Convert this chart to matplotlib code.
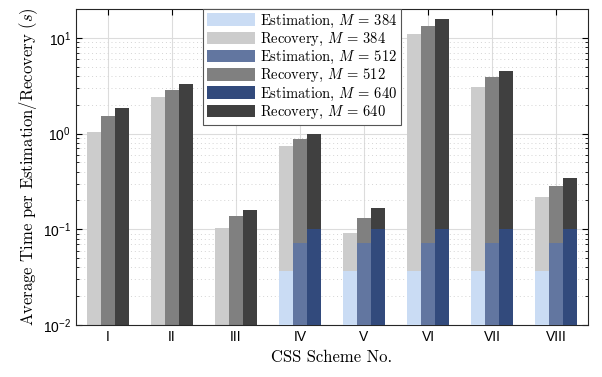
import numpy as np
import matplotlib
matplotlib.use('Agg')
import matplotlib.pyplot as plt
from matplotlib.patches import Patch

plt.rcParams['mathtext.fontset'] = 'cm'
plt.rcParams['axes.unicode_minus'] = False

# data
schemes = ['I', 'II', 'III', 'IV', 'V', 'VI', 'VII', 'VIII']
M_values = [384, 512, 640]
rec_384 = [1.03, 2.39, 0.104, 0.745, 0.092, 11.0, 3.09, 0.215]
rec_512 = [1.53, 2.85, 0.137, 0.875, 0.131, 13.4, 3.93, 0.282]
rec_640 = [1.85, 3.30, 0.160, 1.00, 0.165, 15.9, 4.50, 0.340]
est_384 = [np.nan, np.nan, np.nan, 0.0367, 0.0367, 0.0367, 0.0367, 0.0367]
est_512 = [np.nan, np.nan, np.nan, 0.072, 0.072, 0.072, 0.072, 0.072]
est_640 = [np.nan, np.nan, np.nan, 0.1017, 0.1017, 0.1017, 0.1017, 0.1017]

rec_colors = ['#cccccc', '#808080', '#404040']
est_colors = ['#cadcf4', '#6276a0', '#324a7c']

fig = plt.figure(figsize=(6.02, 3.77), dpi=100)
ax = fig.add_axes([0.126, 0.138, 0.851, 0.838])
ax.set_yscale('log')

x = np.arange(1, len(schemes) + 1)
w = 0.22
recs = [rec_384, rec_512, rec_640]
ests = [est_384, est_512, est_640]
for i in range(3):
    ax.bar(x + (i - 1) * w, recs[i], w, color=rec_colors[i], zorder=2, linewidth=0)
    ax.bar(x + (i - 1) * w, ests[i], w, color=est_colors[i], zorder=3, linewidth=0)

ax.set_xlim(0.5, 8.5)
ax.set_ylim(1e-2, 20)
ax.set_xticks(x)
ax.set_xticklabels(schemes)
ax.set_yticks([1e-2, 1e-1, 1, 10])

# matlab-ish grid and ticks
ax.grid(True, which='major', color='#dcdcdc', linewidth=0.8, zorder=0)
ax.grid(True, which='minor', axis='y', color='#d4d4d4', linestyle=(0, (1, 3)), linewidth=0.7, zorder=0)
ax.set_axisbelow(True)
ax.tick_params(which='both', direction='in', top=True, right=True)
ax.tick_params(which='major', length=4, labelsize=10)
ax.tick_params(which='minor', length=2)
ax.tick_params(axis='x', which='minor', top=False, bottom=False)
for lab in ax.get_xticklabels() + ax.get_yticklabels():
    lab.set_fontfamily('Liberation Sans')
for s in ax.spines.values():
    s.set_linewidth(0.8)
    s.set_color('#262626')

ax.set_xlabel('CSS Scheme No.', fontfamily='cmr10', fontsize=12, labelpad=4)
ax.set_ylabel('Average Time per Estimation/Recovery $(s)$', fontfamily='cmr10', fontsize=12, labelpad=2)

handles = []
labels = []
for i, m in enumerate(M_values):
    handles.append(Patch(facecolor=est_colors[i]))
    labels.append('Estimation, $M$ = %d' % m)
    handles.append(Patch(facecolor=rec_colors[i]))
    labels.append('Recovery, $M$ = %d' % m)
leg = ax.legend(handles, labels, loc='upper left', bbox_to_anchor=(0.248, 1.0),
                prop={'family': 'cmr10', 'size': 10.5}, fancybox=False,
                handlelength=3.3, handleheight=0.95, labelspacing=0.08,
                handletextpad=0.35, borderpad=0.25, borderaxespad=0.0,
                framealpha=1, edgecolor='#555555')
leg.get_frame().set_linewidth(0.8)
leg.set_zorder(5)

fig.savefig('out.png', dpi=100)
